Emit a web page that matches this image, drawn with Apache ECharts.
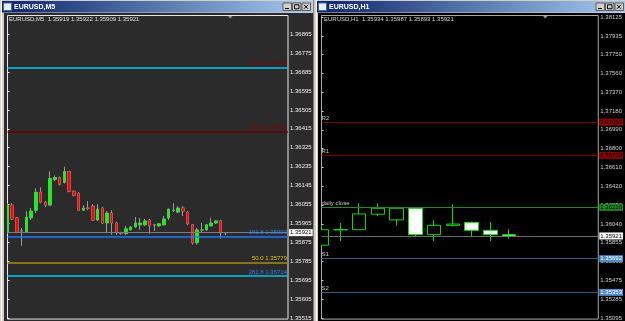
<!DOCTYPE html>
<html>
<head>
<meta charset="utf-8">
<script src="https://cdn.jsdelivr.net/npm/echarts@6/dist/echarts.min.js"></script>
<style>
html, body { margin: 0; padding: 0; background: #d4d0c8; }
#main { width: 625px; height: 321px; }
</style>
</head>
<body>
<div id="main"></div>
<script>
// EURUSD M5 candles: open, close, low, high
const m5Candles = [
  [1.35920, 1.36052, 1.35916, 1.36061],
  [1.36052, 1.35986, 1.35981, 1.36061],
  [1.35991, 1.35925, 1.35920, 1.35995],
  [1.35930, 1.35929, 1.35859, 1.35944],
  [1.35925, 1.35995, 1.35920, 1.36024],
  [1.35991, 1.36024, 1.35981, 1.36038],
  [1.36028, 1.36113, 1.36014, 1.36132],
  [1.36113, 1.36066, 1.36061, 1.36136],
  [1.36066, 1.36052, 1.36042, 1.36071],
  [1.36052, 1.36179, 1.36047, 1.36212],
  [1.36174, 1.36183, 1.36165, 1.36193],
  [1.36183, 1.36151, 1.36146, 1.36188],
  [1.36160, 1.36212, 1.36155, 1.36235],
  [1.36212, 1.36118, 1.36113, 1.36214],
  [1.36118, 1.36099, 1.36094, 1.36122],
  [1.36108, 1.36028, 1.36026, 1.36113],
  [1.36028, 1.36038, 1.36024, 1.36052],
  [1.36038, 1.36036, 1.36028, 1.36071],
  [1.36047, 1.35981, 1.35977, 1.36057],
  [1.35981, 1.36033, 1.35977, 1.36057],
  [1.36038, 1.35967, 1.35963, 1.36042],
  [1.35967, 1.36014, 1.35920, 1.36024],
  [1.36014, 1.35967, 1.35911, 1.36028],
  [1.35967, 1.35920, 1.35911, 1.35972],
  [1.35920, 1.35918, 1.35911, 1.35925],
  [1.35916, 1.35939, 1.35911, 1.35953],
  [1.35934, 1.35948, 1.35932, 1.35953],
  [1.35948, 1.35967, 1.35944, 1.35995],
  [1.35958, 1.35967, 1.35934, 1.35991],
  [1.35958, 1.35977, 1.35953, 1.35986],
  [1.35981, 1.35953, 1.35916, 1.35986],
  [1.35958, 1.35957, 1.35930, 1.35963],
  [1.35953, 1.35963, 1.35948, 1.35967],
  [1.35958, 1.35986, 1.35955, 1.36000],
  [1.35991, 1.36033, 1.35981, 1.36035],
  [1.36028, 1.36027, 1.36019, 1.36061],
  [1.36019, 1.36038, 1.36014, 1.36047],
  [1.36038, 1.36024, 1.36000, 1.36047],
  [1.36019, 1.35963, 1.35958, 1.36024],
  [1.35958, 1.35873, 1.35864, 1.35960],
  [1.35873, 1.35934, 1.35864, 1.35944],
  [1.35934, 1.35933, 1.35920, 1.35967],
  [1.35934, 1.35958, 1.35930, 1.35960],
  [1.35953, 1.35967, 1.35951, 1.35991],
  [1.35967, 1.35977, 1.35963, 1.35981],
  [1.35977, 1.35920, 1.35892, 1.35979],
  [1.35919, 1.35921, 1.35909, 1.35922]
]

// EURUSD H1 candles: open, close, low, high
const h1Candles = [
  [1.35828, 1.35984, 1.35820, 1.36034],
  [1.35982, 1.35986, 1.35868, 1.36051],
  [1.35984, 1.36143, 1.35984, 1.36250],
  [1.36140, 1.36200, 1.36123, 1.36250],
  [1.36083, 1.36200, 1.36024, 1.36200],
  [1.36200, 1.35934, 1.35908, 1.36210],
  [1.35934, 1.36028, 1.35868, 1.36078],
  [1.36028, 1.36041, 1.36018, 1.36240],
  [1.36058, 1.35978, 1.35908, 1.36066],
  [1.35978, 1.35934, 1.35868, 1.36061],
  [1.35934, 1.35921, 1.35893, 1.35987]
]

const m5Ticks = [1.35515, 1.35605, 1.35695, 1.35785, 1.35875, 1.35965, 1.36055, 1.36145,
  1.36235, 1.36325, 1.36415, 1.36505, 1.36595, 1.36685, 1.36775, 1.36865]
const h1Ticks = [1.35095, 1.35285, 1.35475, 1.35665, 1.35855, 1.36040, 1.36230, 1.36420, 1.36610,
  1.36800, 1.36990, 1.37180, 1.37370, 1.37560, 1.37750, 1.37935, 1.38125]

const fiboNames = ['261.8', '161.8', '161.8', '50.0', '261.8']
const fiboPrices = [1.36706, 1.36401, 1.35903, 1.35779, 1.35714]

const pivotNames = ['R2', 'R1', 'daily close', 'S1', 'S2']
const pivotPrices = [1.37067, 1.36732, 1.36210, 1.35692, 1.35353]

const bid = 1.35921
const m5Ohlc = ['1.35919', '1.35922', '1.35909', '1.35921']
const h1Ohlc = ['1.35934', '1.35987', '1.35893', '1.35921']

const FONT = 'Liberation Sans'

// fibo styles
const fiboLine = ['#00c8f0', '#6e0000', '#1e78ff', '#a88a10', '#00c8f0']
const fiboText = ['#8b0000', '#8b0000', '#2a80ff', '#e0c020', '#2a80ff']
// pivot styles
const pivotLine = ['#7a0000', '#7a0000', '#1c8c1c', '#3a5878', '#3a5878']
const pivotBox = ['#8b0000', '#8b0000', '#1c8c1c', '#4f8cc9', '#4f8cc9']

function boxLabel(v, bg, fg) {
  return {
    yAxis: v,
    lineStyle: { color: 'rgba(0,0,0,0)', width: 0 },
    label: {
      show: true, position: 'end', distance: 1, formatter: v.toFixed(5),
      backgroundColor: bg, color: fg, padding: [1, 1, 0, 1], fontSize: 6, fontFamily: FONT
    }
  }
}

const m5Marks = fiboPrices.map((p, i) => ({
  yAxis: p,
  lineStyle: { color: fiboLine[i], width: 1.5, type: 'solid' },
  label: {
    show: true, position: 'insideEndTop', distance: [1, 1],
    formatter: fiboNames[i] + ' ' + p.toFixed(5),
    color: fiboText[i], fontSize: 6, fontFamily: FONT
  }
}))
m5Marks.unshift({ yAxis: bid, lineStyle: { color: '#7c7c7c', width: 1, type: 'solid' }, label: { show: false } })
m5Marks.push(boxLabel(bid, '#ffffff', '#000000'))

const h1Marks = pivotPrices.map((p, i) => ({
  yAxis: p,
  lineStyle: { color: pivotLine[i], width: 1, type: 'solid' },
  label: {
    show: true, position: 'insideStartTop', distance: [0, 1],
    formatter: pivotNames[i], color: '#c8c8c8', fontSize: 6, fontFamily: FONT
  }
}))
h1Marks.unshift({ yAxis: bid, lineStyle: { color: '#6c6c6c', width: 1, type: 'solid' }, label: { show: false } })
pivotPrices.forEach((p, i) => h1Marks.push(boxLabel(p, pivotBox[i], i < 3 ? '#000000' : '#ffffff')))
h1Marks.push(boxLabel(bid, '#ffffff', '#000000'))

function yAxisFor(grid, min, max, ticks, col) {
  return {
    gridIndex: grid, type: 'value', position: 'right', min: min, max: max,
    axisLine: { show: false }, splitLine: { show: false },
    axisTick: { show: true, length: 2, lineStyle: { color: col }, customValues: ticks },
    axisLabel: {
      color: col, fontSize: 6, fontFamily: FONT, margin: 2, padding: [0, 0, 2, 0],
      customValues: ticks, formatter: v => v.toFixed(5)
    }
  }
}

function titleBar(x, w, text) {
  const bx = x + w - 29
  const btn = (i) => ({ type: 'rect', shape: { x: bx + i * 9.5, y: 3, width: 8.5, height: 7.5 },
    style: { fill: '#d4d0c8', stroke: '#404040', lineWidth: 0.8 } })
  return [
    { type: 'rect', shape: { x: x, y: 1, width: w, height: 11.5 },
      style: { fill: new echarts.graphic.LinearGradient(0, 0, 1, 0, [
        { offset: 0, color: '#0a246a' }, { offset: 1, color: '#a6caf0' }]) } },
    { type: 'rect', shape: { x: x + 1.5, y: 3, width: 8, height: 7.5 },
      style: { fill: '#e8f0ff', stroke: '#3a6ea5', lineWidth: 1 } },
    { type: 'text', x: x + 12, y: 7, style: { text: text, fill: '#ffffff', font: 'bold 7px ' + FONT, verticalAlign: 'middle' } },
    btn(0), btn(1), btn(2),
    { type: 'line', shape: { x1: bx + 2, y1: 8.5, x2: bx + 6, y2: 8.5 }, style: { stroke: '#000', lineWidth: 1 } },
    { type: 'rect', shape: { x: bx + 11.5, y: 4.8, width: 4.5, height: 4 }, style: { fill: 'none', stroke: '#000', lineWidth: 1 } },
    { type: 'line', shape: { x1: bx + 21, y1: 4.8, x2: bx + 25, y2: 8.8 }, style: { stroke: '#000', lineWidth: 1 } },
    { type: 'line', shape: { x1: bx + 25, y1: 4.8, x2: bx + 21, y2: 8.8 }, style: { stroke: '#000', lineWidth: 1 } }
  ]
}

const chart = echarts.init(document.getElementById('main'), null, { renderer: 'canvas' })

const graphics = [
  // window bodies
  { type: 'rect', z: -10, shape: { x: 4, y: 13, width: 309, height: 308 }, style: { fill: '#2b2b2b' } },
  { type: 'rect', z: -10, shape: { x: 318, y: 13, width: 307, height: 308 }, style: { fill: '#000000' } },
  { type: 'line', z: -10, shape: { x1: 1.5, y1: 0, x2: 1.5, y2: 321 }, style: { stroke: '#ffffff', lineWidth: 1 } },
  // covers that cut the first candles at the chart frame
  { type: 'rect', z: 100, shape: { x: 4, y: 16, width: 3, height: 305 }, style: { fill: '#2b2b2b' } },
  { type: 'rect', z: 100, shape: { x: 313, y: 13, width: 5, height: 308 }, style: { fill: '#d4d0c8' } },
  { type: 'rect', z: 100, shape: { x: 318, y: 16, width: 3, height: 305 }, style: { fill: '#000000' } },
  { type: 'line', z: 101, shape: { x1: 313.5, y1: 0, x2: 313.5, y2: 321 }, style: { stroke: '#808080', lineWidth: 1 } },
  { type: 'line', z: 101, shape: { x1: 316.5, y1: 0, x2: 316.5, y2: 321 }, style: { stroke: '#ffffff', lineWidth: 1 } }
].concat(titleBar(2, 310, 'EURUSD,M5'), titleBar(317, 308, 'EURUSD,H1'), [
  { type: 'text', x: 9, y: 19, z: 50, style: { text: 'EURUSD,M5  ' + m5Ohlc.join(' '), fill: '#e0e0e0', font: '6px ' + FONT, verticalAlign: 'middle' } },
  { type: 'text', x: 324, y: 19, z: 50, style: { text: 'EURUSD,H1  ' + h1Ohlc.join(' '), fill: '#d8d8d8', font: '6px ' + FONT, verticalAlign: 'middle' } },
  { type: 'polygon', z: 50, shape: { points: [[228, 16], [232.5, 16], [230.2, 18.5]] }, style: { fill: '#9a9a9a' } },
  { type: 'polygon', z: 50, shape: { points: [[543, 16], [547.5, 16], [545.2, 18.5]] }, style: { fill: '#9a9a9a' } }
])

const markCommon = { symbol: ['none', 'none'], silent: true, animation: false, precision: 5 }

const option = {
  animation: false,
  backgroundColor: '#d4d0c8',
  graphic: { elements: graphics },
  grid: [
    { left: 7.5, top: 15.5, width: 280.5, height: 307, show: true, backgroundColor: 'transparent', borderColor: '#e6e6e6', borderWidth: 1 },
    { left: 321.5, top: 15.5, width: 280.5, height: 307, show: true, backgroundColor: 'transparent', borderColor: '#a8a8a8', borderWidth: 1 }
  ],
  xAxis: [
    { gridIndex: 0, type: 'value', min: 0, max: 59.2, show: false },
    { gridIndex: 1, type: 'value', min: 0, max: 14.76, show: false }
  ],
  yAxis: [
    yAxisFor(0, 1.35510, 1.36954, m5Ticks, '#f0f0f0'),
    yAxisFor(1, 1.35084, 1.38141, h1Ticks, '#d0d0d0')
  ],
  series: [
    {
      // level lines of the M5 window
      type: 'line', xAxisIndex: 0, yAxisIndex: 0, data: [], z: 1, silent: true,
      markLine: Object.assign({ data: m5Marks }, markCommon)
    },
    {
      // wicks and outlines
      type: 'candlestick', xAxisIndex: 0, yAxisIndex: 0, z: 2,
      data: m5Candles.map((c, i) => [i].concat(c)),
      encode: { x: 0, y: [1, 2, 3, 4] },
      barWidth: 3, silent: true,
      itemStyle: { color: '#9a9a9a', color0: '#9a9a9a', borderColor: '#9a9a9a', borderColor0: '#9a9a9a', borderColorDoji: '#9a9a9a', borderWidth: 1 }
    },
    {
      // bodies
      type: 'candlestick', xAxisIndex: 0, yAxisIndex: 0, z: 3,
      data: m5Candles.map((c, i) => [i].concat(c)),
      encode: { x: 0, y: [1, 2, 3, 4] },
      barWidth: 3, silent: true,
      itemStyle: { color: '#00ff00', color0: '#ff0000', borderWidth: 0 }
    },
    {
      type: 'line', xAxisIndex: 1, yAxisIndex: 1, data: [], z: 1, silent: true,
      markLine: Object.assign({ data: h1Marks }, markCommon)
    },
    {
      type: 'candlestick', xAxisIndex: 1, yAxisIndex: 1, z: 3,
      data: h1Candles.map((c, i) => [i].concat(c)),
      encode: { x: 0, y: [1, 2, 3, 4] },
      barWidth: 14, silent: true,
      itemStyle: { color: '#000000', color0: '#ffffff', borderColor: '#00e000', borderColor0: '#00e000', borderColorDoji: '#00e000', borderWidth: 1 }
    }
  ]
}

chart.setOption(option)
</script>
</body>
</html>
